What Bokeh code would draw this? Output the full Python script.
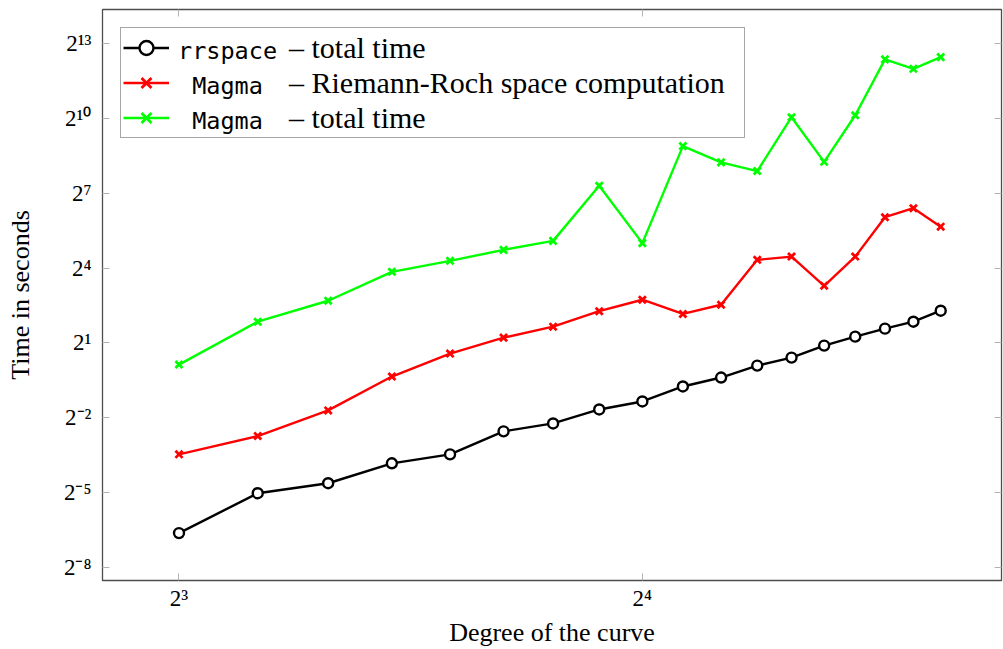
from bokeh.plotting import figure
from bokeh.models import (Range1d, FixedTicker, CustomJSTickFormatter, LogAxis,
                          Legend, LegendItem)
from bokeh.embed import file_html
from bokeh.resources import INLINE

# ---- data ----
degrees = [8, 9, 10, 11, 12, 13, 14, 15, 16, 17, 18, 19, 20, 21, 22, 23, 24, 25]
rrspace_total = [0.0101, 0.0306, 0.0404, 0.0703, 0.0902, 0.171, 0.213, 0.314, 0.392,
                 0.595, 0.763, 1.064, 1.329, 1.853, 2.378, 2.969, 3.605, 4.891]
magma_rr = [0.0902, 0.150, 0.306, 0.785, 1.485, 2.313, 3.138, 4.823, 6.635,
            4.469, 5.776, 20.11, 22.01, 9.78, 22.01, 65.8, 84.5, 50.6]
magma_total = [1.094, 3.605, 6.45, 14.42, 19.56, 26.54, 34.06, 157.6, 32.0,
               474.4, 302.3, 237.2, 1060.0, 306.6, 1120.6, 5294.0, 4068.0, 5634.0]
x_ticks = [8, 16]
y_ticks = [0.00390625, 0.03125, 0.25, 2, 16, 128, 1024, 8192]
series_labels = ["– total time", "– Riemann-Roch space computation", "– total time"]
mono_words = ["rrspace", "\u00a0Magma", "\u00a0Magma"]

SERIF = "Liberation Serif"
MONO = "DejaVu Sans Mono"
FRAME = "#4d4d4d"
TICK = "#b3b3b3"

p = figure(width=1003, height=649, x_axis_type="log", y_axis_type="log",
           x_range=Range1d(7.135, 27.38), y_range=Range1d(0.002705, 21175),
           output_backend="svg", toolbar_location=None,
           min_border_left=102, min_border_right=2, min_border_top=9, min_border_bottom=68)
p.grid.visible = False
p.outline_line_color = FRAME
p.outline_line_width = 1.3

sup_js = """
const sup = {"0":"⁰","1":"¹","2":"²","3":"³","4":"⁴","5":"⁵","6":"⁶","7":"⁷","8":"⁸","9":"⁹","-":"⁻"};
const e = Math.round(Math.log2(tick));
return "2" + String(e).split("").map(c => sup[c]).join("");
"""

def style_axis(ax, ticks):
    ax.ticker = FixedTicker(ticks=ticks, minor_ticks=[])
    ax.major_tick_in = 7
    ax.major_tick_out = 0
    ax.major_tick_line_color = TICK
    ax.major_tick_line_width = 1
    ax.minor_tick_line_color = None
    ax.axis_line_color = None

for ax in p.xaxis:
    style_axis(ax, x_ticks)
    ax.formatter = CustomJSTickFormatter(code=sup_js)
    ax.major_label_text_font = SERIF
    ax.major_label_text_font_size = "23px"
    ax.major_label_text_color = "black"
    ax.major_label_standoff = 5
    ax.axis_label = "Degree of the curve"
    ax.axis_label_text_font = SERIF
    ax.axis_label_text_font_size = "26px"
    ax.axis_label_text_font_style = "normal"
    ax.axis_label_text_color = "black"
    ax.axis_label_standoff = 4

for ax in p.yaxis:
    style_axis(ax, y_ticks)
    ax.formatter = CustomJSTickFormatter(code=sup_js)
    ax.major_label_text_font = SERIF
    ax.major_label_text_font_size = "23px"
    ax.major_label_text_color = "black"
    ax.major_label_standoff = 11
    ax.axis_label = "Time in seconds"
    ax.axis_label_text_font = SERIF
    ax.axis_label_text_font_size = "26px"
    ax.axis_label_text_font_style = "normal"
    ax.axis_label_text_color = "black"
    ax.axis_label_standoff = 26

top = LogAxis()
style_axis(top, x_ticks)
top.formatter = CustomJSTickFormatter(code="return ''")
top.major_label_text_font_size = "0px"
top.major_label_standoff = 0
top.axis_label_standoff = 0
p.add_layout(top, "above")

right = LogAxis()
style_axis(right, y_ticks)
right.formatter = CustomJSTickFormatter(code="return ''")
right.major_label_text_font_size = "0px"
right.major_label_standoff = 0
right.axis_label_standoff = 0
p.add_layout(right, "right")

colors = ["black", "#ff0000", "#00ff00"]
data = [rrspace_total, magma_rr, magma_total]
markers = ["circle", "x", "x"]
items = []
for vals, col, mk, lab in zip(data, colors, markers, series_labels):
    rl = p.line(degrees, vals, line_color=col, line_width=2.4)
    if mk == "circle":
        rs = p.scatter(degrees, vals, marker="circle", size=10, line_color=col,
                       fill_color="white", line_width=2.4)
    else:
        rs = p.scatter(degrees, vals, marker="x", size=10, line_color=col, line_width=2.8)
    items.append(LegendItem(label=lab, renderers=[rl, rs]))

ROW = 35
legend = Legend(items=items, location="top_left", margin=18, padding=2, spacing=0,
                glyph_width=46, glyph_height=ROW, label_height=ROW, label_standoff=120,
                label_width=453,
                label_text_font=SERIF, label_text_font_size="30px", label_text_color="black",
                border_line_color=FRAME, border_line_width=1.3,
                background_fill_color="white", background_fill_alpha=1.0)
p.add_layout(legend)

# second, frameless legend holding the typewriter-font program names
ghost = p.line(x=[], y=[], line_alpha=0)
mono_items = [LegendItem(label=w, renderers=[ghost]) for w in mono_words]
legend2 = Legend(items=mono_items, location=(19, 442), margin=0, padding=0, spacing=0,
                 glyph_width=52, glyph_height=ROW, label_height=ROW, label_standoff=5,
                 label_text_font=MONO, label_text_font_size="23.5px", label_text_color="black",
                 border_line_color=None, background_fill_alpha=0.0)
p.add_layout(legend2)

open("out.html", "w").write(file_html(p, INLINE))
